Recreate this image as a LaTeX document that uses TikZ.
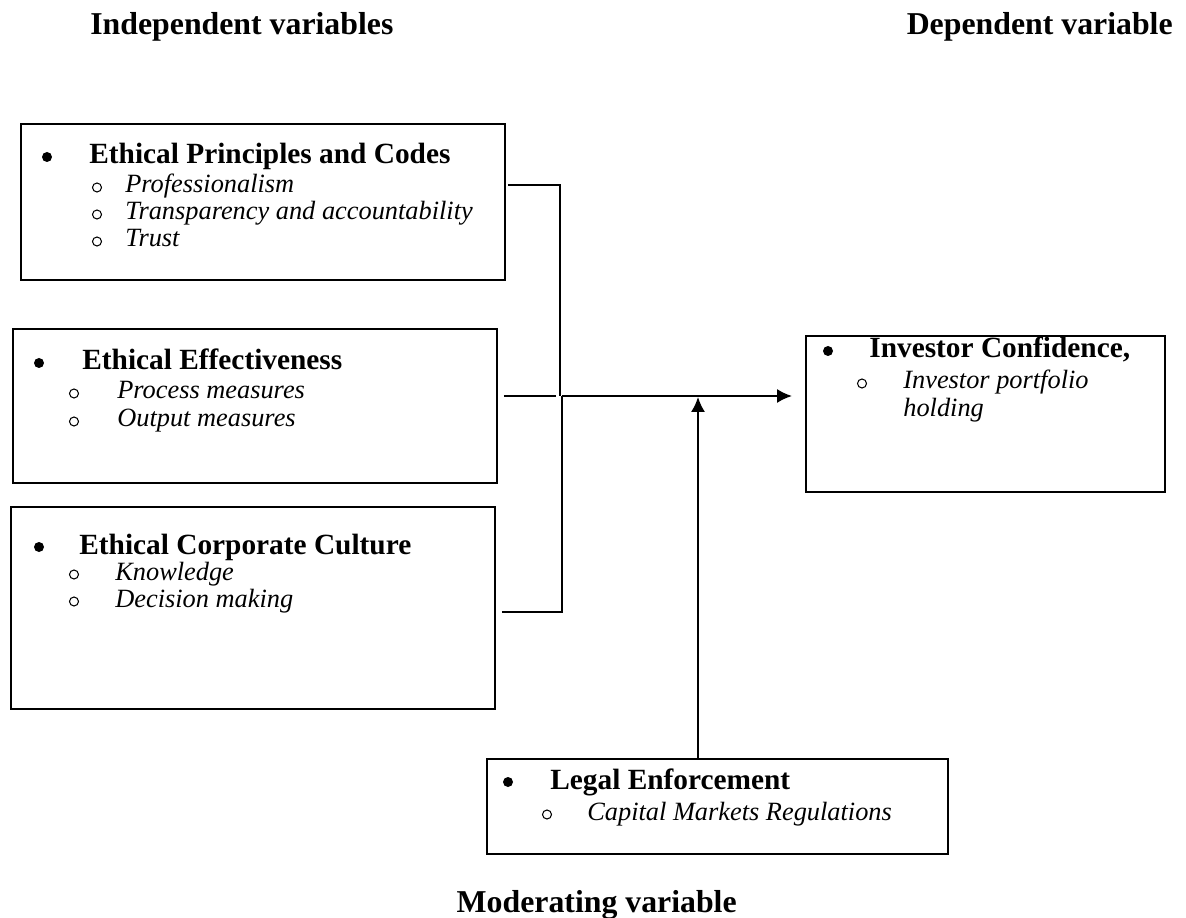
\documentclass[tikz,border=0pt]{standalone}
\usepackage{fontspec}
\setmainfont{Liberation Serif}
\usetikzlibrary{arrows.meta,calc}
\begin{document}
\begin{tikzpicture}[x=0.02cm,y=-0.02cm]
                \tikzset{>={Latex[length=8.5pt,width=8pt]}}
                \tikzset{box/.style={draw,line width=1.1pt,anchor=north west,inner sep=0pt,outer sep=0pt},
                         head/.style={anchor=base west,inner sep=0pt,font=\fontsize{16.7}{20}\selectfont\bfseries},
                         item/.style={anchor=base west,inner sep=0pt,font=\fontsize{15}{18}\selectfont\itshape},
                         title/.style={inner sep=0pt,font=\fontsize{18.1}{22}\selectfont\bfseries},
                         conn/.style={line width=1.1pt},
                         subdot/.style={line width=0.6pt}}
                \useasboundingbox (0,0) rectangle (1186,918);

                % titles
                \node[title,anchor=base west] (indep) at (90,35) {Independent variables};
                \node[title,anchor=base east] (dep) at (1173,35) {Dependent variable};
                \node[title,anchor=base east] (moder) at (737,912) {Moderating variable};

                % boxes
                \node[box,minimum width=9.68cm,minimum height=3.12cm] (epc) at (21,124) {};
                \node[box,minimum width=9.68cm,minimum height=3.08cm] (eef) at (13,329) {};
                \node[box,minimum width=9.68cm,minimum height=4.04cm] (ecc) at (11,507) {};
                \node[box,minimum width=7.18cm,minimum height=3.12cm] (inv) at (806,336) {};
                \node[box,minimum width=9.22cm,minimum height=1.90cm] (leg) at (487,759) {};

                % Ethical Principles and Codes
                \fill (47,157) circle (5);
                \node[head] (epc-h) at (89,164) {Ethical Principles and Codes};
                \draw[subdot] (97,187.5) circle (4.5);
                \node[item] (epc-1) at (125,193) {Professionalism};
                \draw[subdot] (97,214.5) circle (4.5);
                \node[item] (epc-2) at (125,220) {Transparency and accountability};
                \draw[subdot] (97,241.5) circle (4.5);
                \node[item] (epc-3) at (125,247) {Trust};

                % Ethical Effectiveness
                \fill (39,363) circle (5);
                \node[head] (eef-h) at (82,370) {Ethical Effectiveness};
                \draw[subdot] (74,393.5) circle (4.5);
                \node[item] (eef-1) at (117,399) {Process measures};
                \draw[subdot] (74,421.5) circle (4.5);
                \node[item] (eef-2) at (117,427) {Output measures};

                % Ethical Corporate Culture
                \fill (39,547) circle (5);
                \node[head] (ecc-h) at (79,554) {Ethical Corporate Culture};
                \draw[subdot] (74,574.5) circle (4.5);
                \node[item] (ecc-1) at (115,580) {Knowledge};
                \draw[subdot] (74,601.5) circle (4.5);
                \node[item] (ecc-2) at (115,607) {Decision making};

                % Investor Confidence
                \fill (828,351) circle (5);
                \node[head] (inv-h) at (869,358) {Investor Confidence,};
                \draw[subdot] (862,383.5) circle (4.5);
                \node[item] (inv-1) at (903,389) {Investor portfolio};
                \node[item] (inv-2) at (903,417) {holding};

                % Legal Enforcement
                \fill (508,782) circle (5);
                \node[head] (leg-h) at (550,789) {Legal Enforcement};
                \draw[subdot] (547,814.5) circle (4.5);
                \node[item] (leg-1) at (587,820) {Capital Markets Regulations};

                % connectors
                \coordinate (jtop) at (560,185);
                \coordinate (jn) at (560,396);
                \coordinate (jlow) at (562,612);
                \draw[conn] ($(epc.east |- jtop)+(3,0)$) -- (jtop) -- (jn);
                \draw[conn] ($(eef.east |- jn)+(7,0)$) -- ($(jn)+(-4,0)$);
                \draw[conn] ($(ecc.east |- jlow)+(7,0)$) -- (jlow) -- ($(jn)+(2,0)$);
                \draw[conn,->] ($(jn)+(2,0)$) -- ($(inv.west |- jn)+(-14,0)$);
                \draw[conn,->] (leg.north -| 698,0) -- (698,397);
            \end{tikzpicture}
\end{document}
